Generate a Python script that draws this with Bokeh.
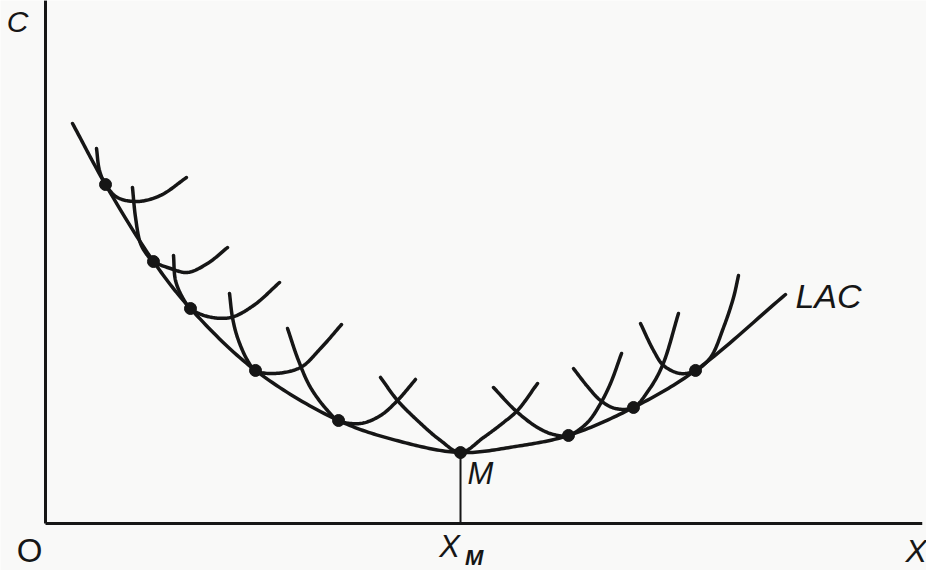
import numpy as np
from bokeh.plotting import figure
from bokeh.models import Range1d
from bokeh.core.properties import value
from bokeh.embed import file_html
from bokeh.resources import INLINE

# ---------------- data (output Q on x, cost C on y) ----------------
lac_x = [3.09, 6.86, 12.34, 16.57, 24.00, 33.49, 40.57, 47.43, 53.71, 59.77, 67.20, 74.29, 84.57]
lac_y = [45.71, 38.74, 29.94, 24.57, 17.49, 11.77, 9.37, 8.11, 8.80, 10.06, 13.26, 17.49, 26.17]

sac1_x = [5.83, 6.17, 6.86, 8.23, 10.51, 13.14, 16.11]
sac1_y = [42.86, 40.34, 38.74, 37.26, 36.80, 37.49, 39.54]
sac2_x = [9.94, 10.29, 10.86, 11.66, 12.34, 14.29, 16.23, 18.51, 20.80]
sac2_y = [38.40, 34.97, 32.00, 30.63, 29.94, 29.14, 28.69, 29.71, 31.54]
sac3_x = [14.63, 14.86, 15.66, 16.57, 18.51, 21.14, 23.77, 26.74]
sac3_y = [30.63, 27.77, 25.83, 24.57, 23.66, 23.54, 24.91, 27.54]
sac4_x = [21.03, 21.37, 21.94, 23.09, 24.00, 26.06, 29.14, 31.43, 33.83]
sac4_y = [26.29, 23.54, 21.26, 18.63, 17.49, 17.14, 17.83, 20.00, 22.74]
sac5_x = [27.66, 28.91, 30.29, 32.23, 33.49, 36.00, 38.29, 40.23, 42.29]
sac5_y = [22.29, 18.63, 15.54, 12.91, 11.77, 11.43, 12.34, 14.06, 16.46]
sac6_x = [38.29, 40.23, 42.51, 45.14, 47.43, 50.06, 52.34, 53.94, 56.23]
sac6_y = [16.69, 14.06, 11.77, 9.49, 8.11, 9.83, 11.54, 12.91, 16.00]
sac7_x = [51.20, 53.71, 56.23, 58.06, 59.77, 61.94, 63.43, 64.57, 65.83]
sac7_y = [15.54, 12.91, 10.97, 10.17, 10.06, 11.54, 13.71, 16.00, 19.43]
sac8_x = [60.34, 61.94, 63.43, 65.14, 67.20, 68.91, 70.51, 72.34]
sac8_y = [17.71, 15.66, 14.06, 13.14, 13.26, 15.20, 18.06, 24.00]
sac9_x = [68.00, 69.49, 70.63, 72.57, 74.29, 76.00, 77.49, 78.63, 79.20]
sac9_y = [22.86, 19.77, 18.06, 17.14, 17.49, 18.97, 22.40, 25.83, 28.34]

sacs = [(sac1_x, sac1_y), (sac2_x, sac2_y), (sac3_x, sac3_y), (sac4_x, sac4_y),
        (sac5_x, sac5_y), (sac6_x, sac6_y), (sac7_x, sac7_y), (sac8_x, sac8_y),
        (sac9_x, sac9_y)]

tan_x = [6.86, 12.34, 16.57, 24.00, 33.49, 47.43, 59.77, 67.20, 74.29]
tan_y = [38.74, 29.94, 24.57, 17.49, 11.77, 8.11, 10.06, 13.26, 17.49]

x_m = 47.43
m_cost = 8.11
x_axis_end = 100.2
y_axis_end = 59.8

INK = "#161616"
FONT = "Liberation Sans"


def smooth(xs, ys, n=24):
    """Centripetal Catmull-Rom through the read points (rendering only)."""
    P = np.column_stack([xs, ys]).astype(float)
    P = np.vstack([2 * P[0] - P[1], P, 2 * P[-1] - P[-2]])
    out = []
    for i in range(1, len(P) - 2):
        p0, p1, p2, p3 = P[i - 1], P[i], P[i + 1], P[i + 2]
        t0 = 0.0
        t1 = t0 + np.linalg.norm(p1 - p0) ** 0.5
        t2 = t1 + np.linalg.norm(p2 - p1) ** 0.5
        t3 = t2 + np.linalg.norm(p3 - p2) ** 0.5
        t = np.linspace(t1, t2, n)[:, None]
        a1 = (t1 - t) / (t1 - t0) * p0 + (t - t0) / (t1 - t0) * p1
        a2 = (t2 - t) / (t2 - t1) * p1 + (t - t1) / (t2 - t1) * p2
        a3 = (t3 - t) / (t3 - t2) * p2 + (t - t2) / (t3 - t2) * p3
        b1 = (t2 - t) / (t2 - t0) * a1 + (t - t0) / (t2 - t0) * a2
        b2 = (t3 - t) / (t3 - t1) * a2 + (t - t1) / (t3 - t1) * a3
        c = (t2 - t) / (t2 - t1) * b1 + (t - t1) / (t2 - t1) * b2
        out.append(c if i == 1 else c[1:])
    c = np.vstack(out)
    return c[:, 0], c[:, 1]


p = figure(width=926, height=570, output_backend="svg", toolbar_location=None,
           x_range=Range1d(-5.143, 100.686), y_range=Range1d(-5.371, 59.771),
           x_axis_type=None, y_axis_type=None, min_border=0)
p.grid.visible = False
p.outline_line_color = None
p.background_fill_color = "#f9f9f8"
p.border_fill_color = "#f9f9f8"

# axes
p.line([0, 0], [0, y_axis_end], line_color=INK, line_width=3)
p.line([0, x_axis_end], [0, 0], line_color=INK, line_width=3)
# drop line at X_M
p.line([x_m, x_m], [0, m_cost], line_color=INK, line_width=2)

# short-run curves
for sx, sy in sacs:
    cx, cy = smooth(sx, sy)
    p.line(cx, cy, line_color=INK, line_width=3.5, line_cap="round", line_join="round")

# long-run envelope
lx, ly = smooth(lac_x, lac_y)
p.line(lx, ly, line_color=INK, line_width=3.5, line_cap="round", line_join="round")

# tangency points
p.scatter(tan_x, tan_y, size=12, marker="circle", fill_color=INK, line_color=INK)

# labels
def label(x, y, t, size, align="left", style="italic"):
    p.text([x], [y], text=[t], text_font=value(FONT), text_font_size=size,
           text_font_style=style, text_align=align, text_baseline="alphabetic",
           text_color=INK)

label(-3.2, 57.4, "C", "30px", align="center")
label(-1.83, -3.1, "O", "33px", align="center", style="normal")
label(46.17, -2.6, "X", "31px", align="center")
label(49.0, -3.9, "M", "22px", align="center", style="bold italic")
label(48.23, 5.7, "M", "31px")
label(85.71, 26.0, "LAC", "34px")
label(98.29, -3.1, "X", "32px")

open("out.html", "w").write(file_html(p, INLINE))
